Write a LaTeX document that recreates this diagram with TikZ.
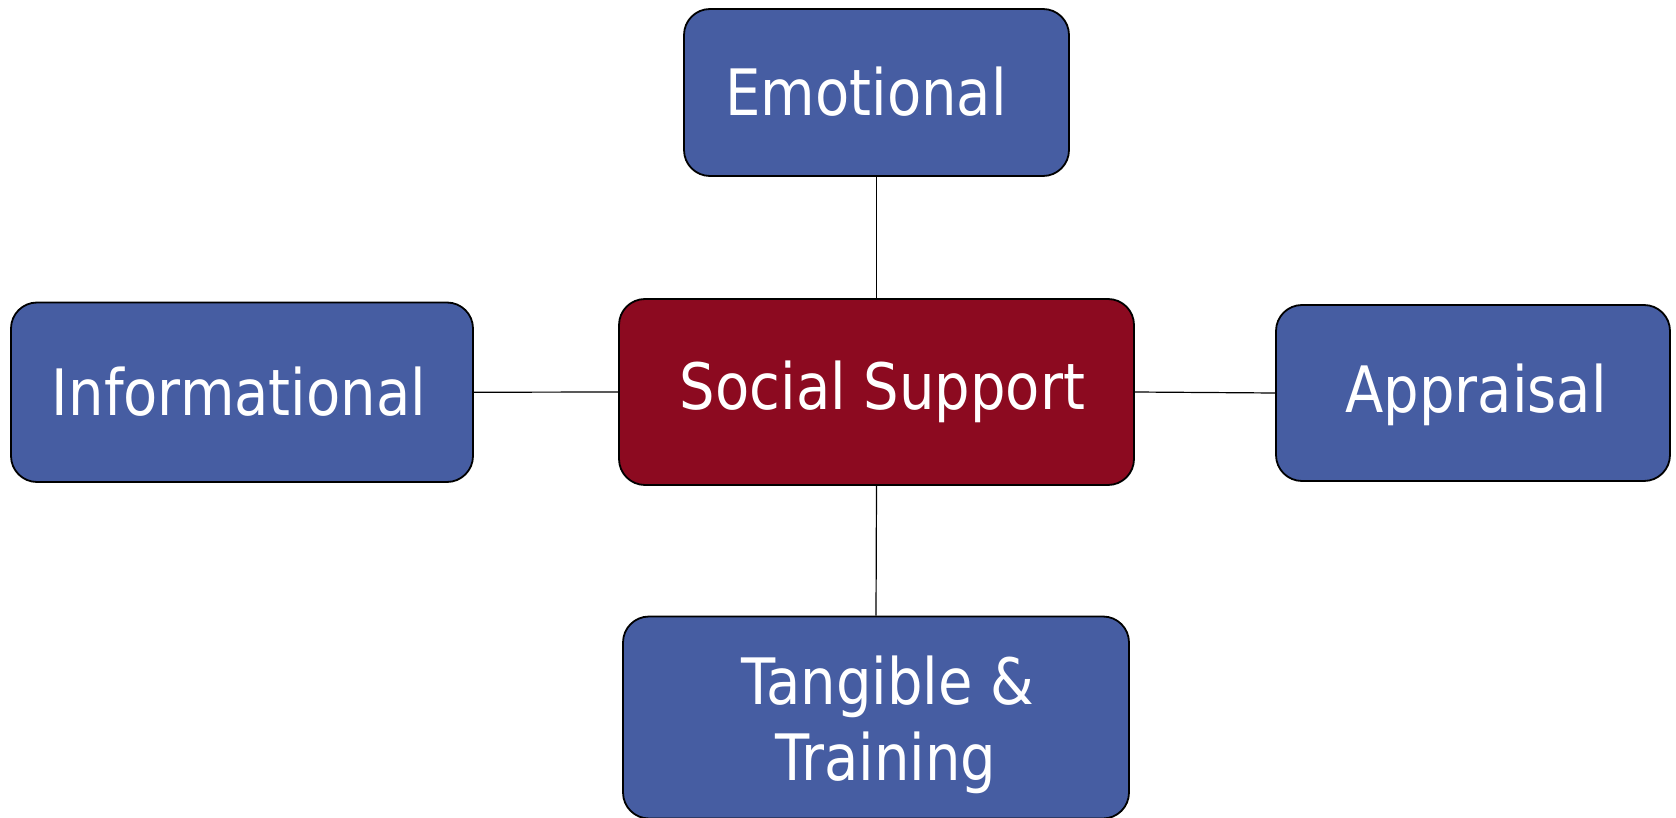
\documentclass[tikz,border=0pt]{standalone}
\usepackage{fontspec}
\setmainfont{DejaVu Sans}[FakeStretch=0.875]
\begin{document}
\begin{tikzpicture}[x=0.5pt,y=-0.5pt,
  box/.style={draw=black,line width=0.9pt,rounded corners=13pt,
    rectangle,inner sep=0pt},
  bluebox/.style={box,fill=boxblue},
  redbox/.style={box,fill=boxred},
  lbl/.style={anchor=base,inner sep=0pt,text=white,
    font=\fontsize{32}{38}\selectfont},
  link/.style={draw=black,line width=0.6pt}]
\definecolor{boxblue}{RGB}{70,93,162}
\definecolor{boxred}{RGB}{140,10,32}
\useasboundingbox (0,0) rectangle (1676,818);

% boxes
\node[bluebox,minimum width=192.5pt,minimum height=83.5pt] (emo) at (876.5,92.5) {};
\node[redbox,minimum width=257.5pt,minimum height=93pt] (soc) at (876.5,392) {};
\node[bluebox,minimum width=231pt,minimum height=89.75pt] (info) at (242,392.25) {};
\node[bluebox,minimum width=197pt,minimum height=88pt] (appr) at (1473,393) {};
\node[bluebox,minimum width=253pt,minimum height=101pt] (tang) at (876,717.5) {};

% labels
\node[lbl] (emotxt) at (866,115.4) {Emotional};
\node[lbl] (soctxt) at (882.5,409) {Social Support};
\node[lbl] (infotxt) at (239,415.8) {Informational};
\node[lbl] (apprtxt) at (1476,412.6) {Appraisal};
\node[lbl] (tangtxta) at (887.7,704.4) {Tangible \&};
\node[lbl] (tangtxtb) at (885.6,780.3) {Training};

% connectors
\draw[link] (emo.south) -- (soc.north);
\draw[link] (soc.south) -- (tang.north);
\draw[link] (info.east) -- (soc.west);
\draw[link] (soc.east) -- (appr.west);
\end{tikzpicture}
\end{document}
